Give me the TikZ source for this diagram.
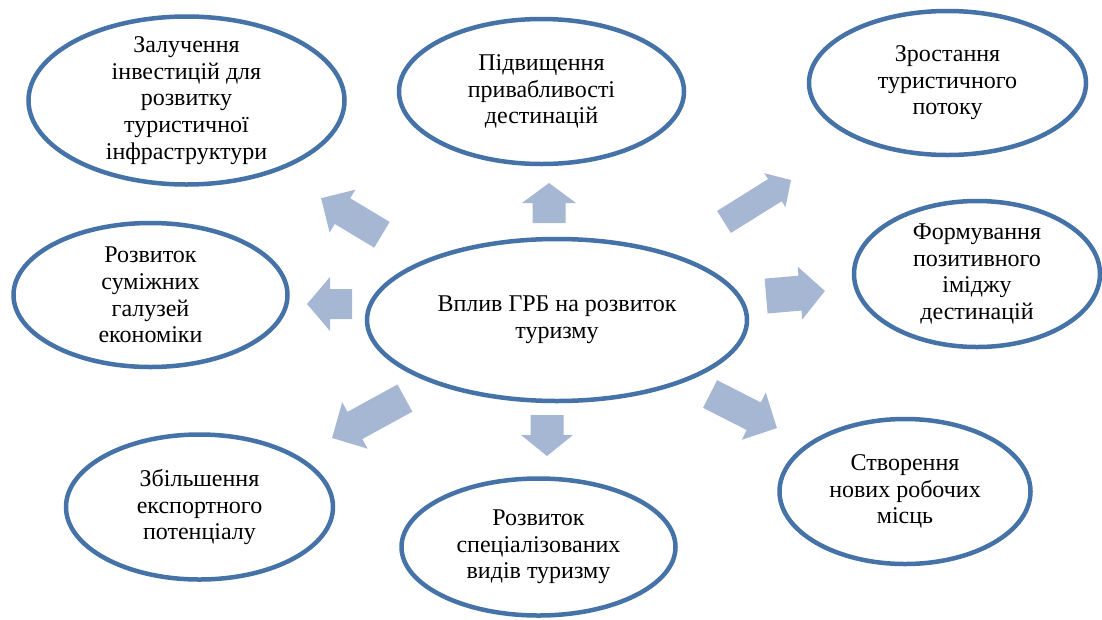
\documentclass[tikz,border=0pt]{standalone}
\usepackage{fontspec}
\setmainfont{Liberation Serif}
\newfontfamily\ringfont{Liberation Serif}
\usepackage{xcolor}
\usetikzlibrary{shapes.geometric}

\definecolor{ringblue}{RGB}{69,114,167}
\definecolor{arrowblue}{RGB}{165,183,211}

% block arrow: centre, angle, length, shaft width, head width, head length
\newcommand{\blockarrow}[6]{%
  \fill[arrowblue,shift={#1},rotate=#2]
    (-#3/2,-#4/2) -- ({#3/2-#6},-#4/2) -- ({#3/2-#6},-#5/2) -- (#3/2,0)
    -- ({#3/2-#6},#5/2) -- ({#3/2-#6},#4/2) -- (-#3/2,#4/2) -- cycle;}

\begin{document}
\begin{tikzpicture}[x=1pt,y=-1pt,
    ring/.style={ellipse,draw=ringblue,line width=4.5pt,align=center,
      inner xsep=0pt,inner ysep=-9pt,font=\ringfont\fontsize{24}{26.6}\selectfont}]
  \useasboundingbox (0,0) rectangle (1102,619);
  % centre
  \node[ring,minimum width=380pt,minimum height=162pt] (hub) at (557,320) {Вплив ГРБ на розвиток\\туризму};
  % outer ring
  \node[ring,minimum width=316pt,minimum height=168pt] (invest) at (186.5,100.5) {Залучення\\інвестицій для\\розвитку\\туристичної\\інфраструктури};
  \node[ring,minimum width=285pt,minimum height=145pt] (appeal) at (541.5,91.5) {Підвищення\\привабливості\\дестинацій};
  \node[ring,minimum width=277pt,minimum height=144pt] (flow) at (947.5,83) {Зростання\\туристичного\\потоку};
  \node[ring,minimum width=246pt,minimum height=146pt] (image) at (977,274) {Формування\\позитивного\\іміджу\\дестинацій};
  \node[ring,minimum width=274pt,minimum height=144pt] (related) at (150.5,295) {Розвиток\\суміжних\\галузей\\економіки};
  \node[ring,minimum width=267pt,minimum height=145pt] (export) at (199.5,507) {Збільшення\\експортного\\потенціалу};
  \node[ring,minimum width=274pt,minimum height=137pt] (special) at (538.5,547) {Розвиток\\спеціалізованих\\видів туризму};
  \node[ring,minimum width=251pt,minimum height=145pt] (jobs) at (905,491.5) {Створення\\нових робочих\\місць};
  % arrows pointing out of the centre
  \blockarrow{(351.5,216.5)}{149}{71}{30}{50}{25}
  \blockarrow{(549,203)}{90}{40}{33}{54}{20}
  \blockarrow{(757.5,201)}{32}{79}{26}{40}{19}
  \blockarrow{(795.5,293.5)}{5}{59}{35}{53}{25}
  \blockarrow{(329.5,304)}{180}{45}{30}{54}{23}
  \blockarrow{(368.5,418)}{208.7}{83}{31}{53}{26}
  \blockarrow{(547,435.5)}{270}{41}{33}{52}{21}
  \blockarrow{(743.5,411)}{-27}{75}{31}{53}{26}
\end{tikzpicture}
\end{document}
